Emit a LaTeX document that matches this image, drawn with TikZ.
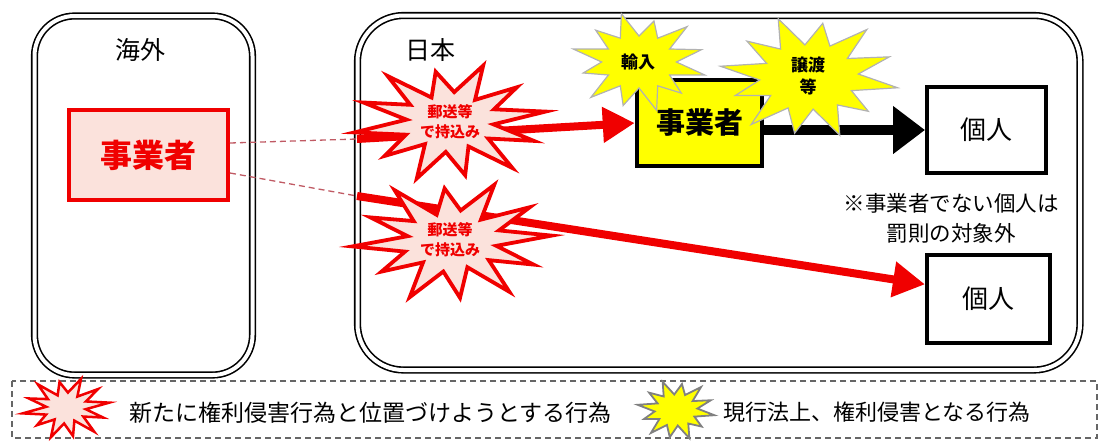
\documentclass[tikz,border=0pt]{standalone}
\usepackage{fontspec}
\setmainfont{Noto Sans CJK JP}
\usetikzlibrary{arrows.meta}
\definecolor{jred}{HTML}{F00000}
\definecolor{jpink}{HTML}{FBE2DC}
\definecolor{jyel}{HTML}{FFFF00}
\definecolor{dashred}{HTML}{C05A64}
% #1 style, #2 cx, #3 cy, #4 rx, #5 ry, #6 number of points, #7 start angle, #8 list outer/inner
\newcommand\burstshape[8]{%
  \def\bpth{}%
  \foreach \ro/\ri [count=\k from 0] in {#8} {%
    \pgfmathsetmacro\ao{#7+\k*360/#6}%
    \pgfmathsetmacro\ai{#7+(\k+0.5)*360/#6}%
    \pgfmathsetmacro\xo{#2+#4*\ro*cos(\ao)}%
    \pgfmathsetmacro\yo{#3+#5*\ro*sin(\ao)}%
    \pgfmathsetmacro\xi{#2+#4*\ri*cos(\ai)}%
    \pgfmathsetmacro\yi{#3+#5*\ri*sin(\ai)}%
    \ifnum\k=0 \xdef\bpth{(\xo,\yo) -- (\xi,\yi)}%
    \else \xdef\bpth{\bpth -- (\xo,\yo) -- (\xi,\yi)}\fi
  }%
  \draw[#1] \bpth -- cycle;%
}
\tikzset{
  region/.style={draw=black, double=white, double distance=4pt, line width=1.6pt},
  redbox/.style={draw=jred, fill=jpink, line width=4pt, text=jred, font=\bfseries\fontsize{32}{32}\selectfont},
  yelbox/.style={draw=black, fill=jyel, line width=4.5pt, font=\bfseries\fontsize{29}{29}\selectfont},
  pbox/.style={draw=black, fill=white, line width=4pt, font=\fontsize{26}{26}\selectfont},
  redstar/.style={draw=jred, fill=jpink, line width=3.8pt, line join=miter, miter limit=20},
  yelstar/.style={draw=gray!60, fill=jyel, line width=1.2pt, line join=miter, miter limit=20},
  redtext/.style={text=jred, align=center, font=\bfseries\fontsize{15}{20}\selectfont, inner sep=0pt},
  yeltext/.style={align=center, font=\bfseries\fontsize{17}{22}\selectfont, inner sep=0pt},
  redarrow/.style={draw=jred, line width=8pt, -{Triangle[length=32pt,width=34pt]}},
  blackarrow/.style={draw=black, line width=10pt, -{Triangle[length=32pt,width=46pt]}},
  dashline/.style={draw=dashred, line width=1.3pt, dash pattern=on 6pt off 4pt},
  lbl/.style={font=\fontsize{25}{25}\selectfont},
  leg/.style={font=\fontsize{23}{23}\selectfont, anchor=west},
}
\begin{document}
\begin{tikzpicture}[x=1pt,y=-1pt]
\useasboundingbox (0,0) rectangle (1105,442);
% regions
\draw[region, rounded corners=40pt] (34.5,16) rectangle (252.5,375);
\draw[region, rounded corners=46pt] (357.5,15.5) rectangle (1080,370);
\node[lbl] (kaigai) at (140,50) {海外};
\node[lbl] (nihon) at (430,50) {日本};
% boxes
\node[redbox, minimum width=159pt, minimum height=90pt] (rb) at (148.5,155) {事業者};
\node[yelbox, minimum width=125pt, minimum height=86pt] (yb) at (699.5,123) {事業者};
\node[pbox, minimum width=119pt, minimum height=86pt] (k1) at (986.5,130) {個人};
\node[pbox, minimum width=123pt, minimum height=88pt] (k2) at (988.5,299) {個人};
\node[font=\fontsize{21.5}{30}\selectfont, align=center] (note) at (951,218) {※事業者でない個人は\\罰則の対象外};
% connectors
\coordinate (a1s) at (357,139);
\coordinate (a2s) at (357,196);
\draw[dashline] ([yshift=12pt]rb.east) -- (a1s);
\draw[dashline] ([yshift=-18pt]rb.east) -- (a2s);
\draw[redarrow] (a1s) -- (yb.west);
\draw[redarrow] (a2s) -- (k2.167);
\draw[blackarrow] (yb.east |- k1.west) -- (k1.west);
% red bursts
\burstshape{redstar}{450}{122}{97}{60}{12}{170}{1/0.45,0.95/0.5,1/0.45,0.85/0.5,1/0.45,0.9/0.5,1/0.45,0.92/0.48,1/0.45,0.9/0.5,1/0.45,0.88/0.5}
\node[redtext] (b1) at (450,122) {郵送等\\で持込み};
\burstshape{redstar}{452}{241}{100}{62}{12}{175}{1/0.45,0.9/0.5,1/0.45,0.85/0.5,1/0.45,0.95/0.5,1/0.45,0.9/0.48,1/0.45,0.92/0.5,1/0.45,0.86/0.5}
\node[redtext] (b2) at (450,240) {郵送等\\で持込み};
% yellow bursts
\burstshape{yelstar}{639}{62}{68}{50}{12}{195}{1/0.52,0.9/0.55,1/0.52,0.85/0.55,1/0.52,0.95/0.55,1/0.52,0.88/0.55,1/0.52,0.9/0.55,1/0.52,0.85/0.55}
\node[yeltext] (y1) at (638,62) {輸入};
\burstshape{yelstar}{809}{77}{90}{62}{12}{190}{1/0.52,0.9/0.55,1/0.52,0.88/0.55,1/0.52,0.95/0.55,1/0.52,0.86/0.55,1/0.52,0.92/0.55,1/0.52,0.87/0.55}
\node[yeltext] (y2) at (808,76) {譲渡\\等};
% legend
\draw[gray!80!black, line width=1.3pt, dash pattern=on 6pt off 4pt] (12,381) rectangle (1097,438);
\burstshape{redstar, line width=2.5pt}{66}{408}{44}{31}{12}{170}{1/0.45,0.9/0.5,1/0.45,0.85/0.5,1/0.45,0.95/0.5,1/0.45,0.9/0.48,1/0.45,0.92/0.5,1/0.45,0.86/0.5}
\node[leg] (lrt) at (126,413) {新たに権利侵害行為と位置づけようとする行為};
\burstshape{yelstar, draw=gray, line width=1.8pt}{676}{410}{39}{30}{12}{190}{1/0.52,0.9/0.55,1/0.52,0.88/0.55,1/0.52,0.95/0.55,1/0.52,0.86/0.55,1/0.52,0.92/0.55,1/0.52,0.87/0.55}
\node[leg, font=\fontsize{22}{22}\selectfont] (lyt) at (720,412) {現行法上、権利侵害となる行為};
\end{tikzpicture}
\end{document}
